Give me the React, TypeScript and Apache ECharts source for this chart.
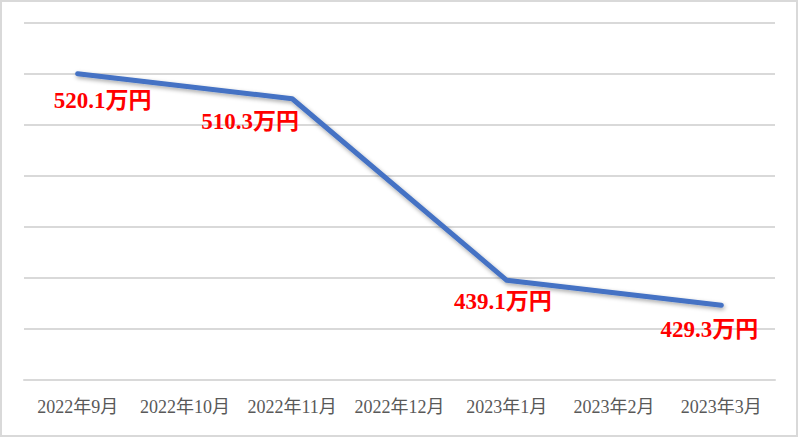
import React, { useEffect, useRef } from "react";
import * as echarts from "echarts";

const categories = ["2022年9月", "2022年10月", "2022年11月", "2022年12月", "2023年1月", "2023年2月", "2023年3月"];
const values: (number | null)[] = [520.1, null, 510.3, null, 439.1, null, 429.3];
const yMin = 400;
const yMax = 540;
const yInterval = 20;
const labelOffsets: Record<number, [number, number]> = {
  0: [25, 10],
  2: [-42, 6],
  4: [-4, 4],
  6: [-12, 7],
};

export default function App() {
  const ref = useRef<HTMLDivElement>(null);
  useEffect(() => {
    document.body.style.margin = "0";
    const chart = echarts.init(ref.current!, null, { renderer: "svg" });
    const data = values.map((v, i) =>
      v == null
        ? null
        : {
            value: v,
            label: { offset: labelOffsets[i] || [0, 0] },
          }
    );
    chart.setOption({
      animation: false,
      backgroundColor: "#ffffff",
      graphic: [
        {
          type: "rect",
          shape: { x: 1, y: 1, width: 796, height: 435 },
          style: { fill: "none", stroke: "#d9d9d9", lineWidth: 2 },
          silent: true,
        },
      ],
      grid: { left: 24, right: 24, top: 23, bottom: 58 },
      xAxis: {
        type: "category",
        data: categories,
        boundaryGap: true,
        axisLine: { show: true, lineStyle: { color: "#d9d9d9", width: 2 } },
        axisTick: { show: false },
        axisLabel: {
          color: "#595959",
          fontSize: 18,
          fontFamily: "Liberation Serif, Noto Sans CJK JP, serif",
          margin: 18,
          interval: 0,
        },
      },
      yAxis: {
        type: "value",
        min: yMin,
        max: yMax,
        interval: yInterval,
        axisLine: { show: false },
        axisTick: { show: false },
        axisLabel: { show: false },
        splitLine: { lineStyle: { color: "#d9d9d9", width: 2 } },
      },
      series: [
        {
          type: "line",
          data,
          connectNulls: true,
          showSymbol: true,
          symbol: "circle",
          symbolSize: 1,
          itemStyle: { color: "rgba(0,0,0,0)" },
          lineStyle: {
            color: "#4472C4",
            width: 5,
            cap: "round",
            join: "round",
            shadowColor: "rgba(0,0,0,0.35)",
            shadowBlur: 4,
            shadowOffsetX: 1,
            shadowOffsetY: 2,
          },
          label: {
            show: true,
            position: "bottom",
            color: "#ff0000",
            fontSize: 23,
            fontWeight: "bold",
            fontFamily: "Liberation Serif, Noto Sans CJK JP, serif",
            formatter: (p: any) => `${p.value}万円`,
          },
        },
      ],
    });
    return () => chart.dispose();
  }, []);
  return <div ref={ref} style={{ width: 799, height: 438, position: "absolute", left: 0, top: 0 }} />;
}
